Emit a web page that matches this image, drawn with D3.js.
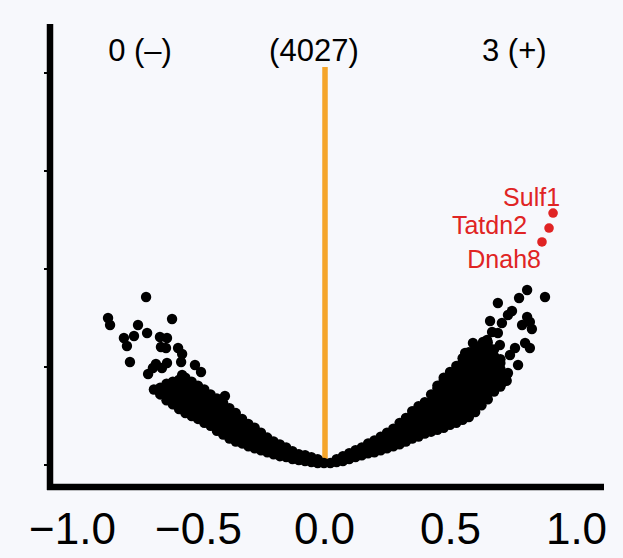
<!DOCTYPE html>
<html>
<head>
<meta charset="utf-8">
<script src="https://cdn.jsdelivr.net/npm/d3@7"></script>
<style>
  body { margin: 0; background: #f7f8fc; }
  svg { display: block; font-family: "Liberation Sans", Arial, Helvetica, sans-serif; }
</style>
</head>
<body>
<div id="chart-volcano"></div>
<script>
// x ticks and group counts (down, not significant, up)
let xTicks = [-1, -0.5, 0, 0.5, 1];
let yTicks = [0, 1, 2, 3, 4];
let countLabels = ["0 (\u2013)", "(4027)", "3 (+)"];

// dense non-significant genes, one entry per logFC column: [logFC, [-log10 p ...]]
let leftBand = [
    [0, [0.02]],
    [-0.025, [0.02, 0.06]],
    [-0.05, [0.03, 0.08]],
    [-0.075, [0.04, 0.1]],
    [-0.1, [0.05, 0.11]],
    [-0.125, [0.06, 0.1, 0.14]],
    [-0.15, [0.08, 0.13, 0.18]],
    [-0.175, [0.09, 0.15, 0.21]],
    [-0.2, [0.11, 0.17, 0.24]],
    [-0.225, [0.13, 0.19, 0.25, 0.28]],
    [-0.25, [0.15, 0.21, 0.27, 0.33]],
    [-0.275, [0.17, 0.23, 0.29, 0.34, 0.38]],
    [-0.3, [0.19, 0.25, 0.31, 0.37, 0.42]],
    [-0.325, [0.22, 0.28, 0.34, 0.4, 0.47]],
    [-0.35, [0.24, 0.3, 0.36, 0.42, 0.48, 0.53]],
    [-0.375, [0.27, 0.33, 0.39, 0.45, 0.52, 0.58]],
    [-0.4, [0.31, 0.37, 0.43, 0.5, 0.57, 0.63]],
    [-0.425, [0.35, 0.41, 0.47, 0.53, 0.6, 0.68]],
    [-0.45, [0.4, 0.46, 0.52, 0.58, 0.65, 0.72]],
    [-0.475, [0.43, 0.49, 0.55, 0.61, 0.67, 0.72, 0.77]],
    [-0.5, [0.47, 0.53, 0.59, 0.65, 0.71, 0.76, 0.81]],
    [-0.525, [0.5, 0.56, 0.62, 0.68, 0.74, 0.8, 0.85]],
    [-0.55, [0.53, 0.59, 0.65, 0.71, 0.77, 0.83, 0.89]],
    [-0.575, [0.57, 0.63, 0.69, 0.75, 0.81, 0.87]],
    [-0.6, [0.62, 0.68, 0.74, 0.8, 0.85]],
    [-0.625, [0.66, 0.72, 0.78, 0.83]],
    [-0.65, [0.72, 0.79]],
    [-0.675, [0.77]]
];

let rightBand = [
    [0.025, [0.02]],
    [0.05, [0.03, 0.06]],
    [0.075, [0.04, 0.09]],
    [0.1, [0.06, 0.12]],
    [0.125, [0.08, 0.15]],
    [0.15, [0.1, 0.18]],
    [0.175, [0.12, 0.17, 0.22]],
    [0.2, [0.13, 0.19, 0.25]],
    [0.225, [0.15, 0.21, 0.29]],
    [0.25, [0.17, 0.23, 0.29, 0.33]],
    [0.275, [0.19, 0.25, 0.31, 0.37]],
    [0.3, [0.21, 0.27, 0.33, 0.39, 0.43]],
    [0.325, [0.24, 0.3, 0.36, 0.42, 0.48]],
    [0.35, [0.27, 0.33, 0.39, 0.45, 0.51, 0.55]],
    [0.375, [0.29, 0.35, 0.41, 0.47, 0.53, 0.6]],
    [0.4, [0.32, 0.38, 0.44, 0.5, 0.56, 0.62, 0.64]],
    [0.425, [0.34, 0.4, 0.46, 0.52, 0.58, 0.64, 0.72]],
    [0.45, [0.36, 0.42, 0.48, 0.54, 0.6, 0.66, 0.72, 0.78, 0.81]],
    [0.475, [0.38, 0.44, 0.5, 0.56, 0.62, 0.68, 0.74, 0.8, 0.86, 0.89]],
    [0.5, [0.41, 0.47, 0.53, 0.59, 0.65, 0.71, 0.77, 0.83, 0.89, 0.95]],
    [0.525, [0.43, 0.49, 0.55, 0.61, 0.67, 0.73, 0.79, 0.85, 0.91, 0.97, 1.01]],
    [0.55, [0.46, 0.52, 0.58, 0.64, 0.7, 0.76, 0.82, 0.88, 0.94, 1.0, 1.05, 1.09]],
    [0.575, [0.49, 0.55, 0.61, 0.67, 0.73, 0.79, 0.85, 0.91, 0.97, 1.03, 1.09, 1.15]],
    [0.6, [0.54, 0.6, 0.66, 0.72, 0.78, 0.84, 0.9, 0.96, 1.02, 1.08, 1.14, 1.19]],
    [0.625, [0.61, 0.67, 0.73, 0.79, 0.85, 0.91, 0.97, 1.03, 1.09, 1.15, 1.22]],
    [0.65, [0.67, 0.73, 0.79, 0.85, 0.91, 0.97, 1.03, 1.09, 1.15, 1.21, 1.25]],
    [0.675, [0.75, 0.81, 0.87, 0.93, 0.99, 1.05, 1.11, 1.18]],
    [0.7, [0.8, 0.86, 0.92, 0.98, 1.04, 1.08]],
    [0.725, [0.86, 0.92]]
];

// scattered non-significant genes
let outX = [-0.706, -0.857, -0.849, -0.603, -0.738, -0.702, -0.754, -0.794, -0.782, -0.651,
    -0.623, -0.647, -0.627, -0.579, -0.563, -0.77, -0.667, -0.623, -0.679, -0.643,
    -0.567, -0.512, -0.698, -0.488, -0.563, -0.393,
    0.806, 0.877, 0.774, 0.69, 0.746, 0.73, 0.806, 0.817, 0.659, 0.706,
    0.786, 0.825, 0.667, 0.69, 0.631, 0.698, 0.798, 0.817, 0.758, 0.591,
    0.56, 0.738, 0.77, 0.73, 0.71, 0.647];
let outY = [1.714, 1.5, 1.429, 1.49, 1.429, 1.347, 1.316, 1.296, 1.214, 1.306,
    1.296, 1.204, 1.194, 1.194, 1.133, 1.051, 1.031, 1.041, 0.99, 0.99,
    1.051, 1.02, 0.929, 0.949, 0.918, 0.704,
    1.786, 1.714, 1.704, 1.653, 1.571, 1.531, 1.51, 1.459, 1.469, 1.449,
    1.429, 1.388, 1.357, 1.347, 1.255, 1.224, 1.245, 1.194, 1.194, 1.245,
    1.143, 1.122, 1.02, 0.939, 0.847, 1.276];

// significant up-regulated genes
let upGenes = ["Sulf1", "Tatdn2", "Dnah8"];
let upX = [0.909, 0.893, 0.865];
let upY = [2.571, 2.418, 2.276];

function show_volcano_chart() {
    let W = 623, H = 558;

    let svg = d3.select("#chart-volcano")
        .append("svg")
        .attr("width", W)
        .attr("height", H);

    svg.append("rect")
        .attr("width", W)
        .attr("height", H)
        .attr("fill", "#f7f8fc");

    let x = d3.scaleLinear().domain([-1, 1]).range([72, 576]);
    let y = d3.scaleLinear().domain([0, 4]).range([465, 73]);

    // flatten the column tables into points
    let ns = [];
    leftBand.concat(rightBand).forEach(function (c) {
        c[1].forEach(function (v) { ns.push({ fc: c[0], p: v }); });
    });
    outX.forEach(function (v, i) { ns.push({ fc: v, p: outY[i] }); });

    let up = upGenes.map(function (g, i) { return { name: g, fc: upX[i], p: upY[i] }; });

    // zero line
    svg.append("line")
        .attr("x1", x(0) + 1).attr("x2", x(0) + 1)
        .attr("y1", 67).attr("y2", y(0) - 3)
        .attr("stroke", "#f5a52a")
        .attr("stroke-width", 5.5);

    svg.append("g")
        .selectAll("circle")
        .data(ns)
        .enter()
        .append("circle")
        .attr("cx", function (d) { return x(d.fc); })
        .attr("cy", function (d) { return y(d.p); })
        .attr("r", 5.2)
        .attr("fill", "#000");

    svg.append("g")
        .selectAll("circle")
        .data(up)
        .enter()
        .append("circle")
        .attr("cx", function (d) { return x(d.fc); })
        .attr("cy", function (d) { return y(d.p); })
        .attr("r", 4.8)
        .attr("fill", "#e02424");

    // label offsets (dx, dy to baseline) picked to match the repelled labels
    let offs = [[7, -7], [-22, 6], [-1, 26]];
    svg.append("g")
        .selectAll("text")
        .data(up)
        .enter()
        .append("text")
        .attr("x", function (d, i) { return x(d.fc) + offs[i][0]; })
        .attr("y", function (d, i) { return y(d.p) + offs[i][1]; })
        .attr("text-anchor", "end")
        .attr("font-size", 25)
        .attr("fill", "#e02424")
        .text(function (d) { return d.name; });

    // counts at the top
    let countPos = [-0.73, -0.04, 0.755];
    svg.append("g")
        .selectAll("text")
        .data(countLabels)
        .enter()
        .append("text")
        .attr("x", function (d, i) { return x(countPos[i]); })
        .attr("y", 61)
        .attr("text-anchor", "middle")
        .attr("font-size", 31)
        .attr("fill", "#000")
        .text(function (d) { return d; });

    // y axis: thick line with tiny ticks, no labels
    svg.append("line")
        .attr("x1", 50).attr("x2", 50)
        .attr("y1", 24).attr("y2", 490)
        .attr("stroke", "#000")
        .attr("stroke-width", 6.5);

    svg.append("g")
        .selectAll("line")
        .data(yTicks)
        .enter()
        .append("line")
        .attr("x1", 44).attr("x2", 48)
        .attr("y1", function (d) { return y(d); })
        .attr("y2", function (d) { return y(d); })
        .attr("stroke", "#000")
        .attr("stroke-width", 2);

    // x axis
    let xAxis = svg.append("g")
        .attr("transform", "translate(0,487)")
        .call(d3.axisBottom(x).tickValues(xTicks).tickSize(0).tickPadding(26).tickFormat(d3.format(".1f")));

    xAxis.select(".domain").remove();
    xAxis.append("line")
        .attr("x1", 47).attr("x2", 604)
        .attr("stroke", "#000")
        .attr("stroke-width", 6.5);

    xAxis.selectAll("text")
        .attr("font-size", 44)
        .attr("font-family", "\"Liberation Sans\", Arial, Helvetica, sans-serif")
        .attr("fill", "#000");
}

show_volcano_chart();
</script>
</body>
</html>
